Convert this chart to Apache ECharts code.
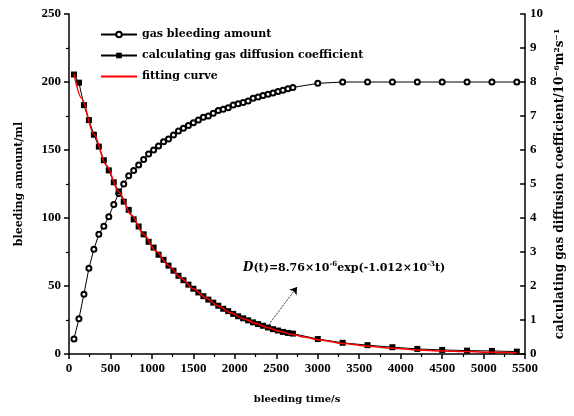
<!DOCTYPE html>
<html>
<head>
<meta charset="utf-8">
<script src="https://cdn.jsdelivr.net/npm/echarts@6/dist/echarts.min.js"></script>
<style>
html, body { margin: 0; padding: 0; background: #fff; }
#main { width: 574px; height: 416px; }
</style>
</head>
<body>
<div id="main"></div>
<script>
// 时间点 (s)
var times = [60, 120, 180, 240, 300, 360, 420, 480, 540, 600,
    660, 720, 780, 840, 900, 960, 1020, 1080, 1140, 1200,
    1260, 1320, 1380, 1440, 1500, 1560, 1620, 1680, 1740, 1800,
    1860, 1920, 1980, 2040, 2100, 2160, 2220, 2280, 2340, 2400,
    2460, 2520, 2580, 2640, 2700, 3000, 3300, 3600, 3900, 4200,
    4500, 4800, 5100, 5400];

// 放气量 (ml)
var bleedingAmount = [11, 26, 44, 63, 77, 88, 94, 101, 110, 118,
    125, 131, 135, 139, 143, 147, 150, 153, 156, 158,
    161, 164, 166, 168, 170, 172, 174, 175, 177, 179,
    180, 181, 183, 184, 185, 186, 188, 189, 190, 191,
    192, 193, 194, 195, 196, 199, 200, 200, 200, 200,
    200, 200, 200, 200];

// 扩散系数 (10^-6 m^2/s)
var diffCoef = [8.22, 7.98, 7.32, 6.88, 6.45, 6.10, 5.70, 5.40, 5.05, 4.78,
    4.48, 4.24, 3.96, 3.75, 3.52, 3.30, 3.13, 2.92, 2.77, 2.60,
    2.45, 2.30, 2.17, 2.04, 1.92, 1.81, 1.70, 1.60, 1.51, 1.42,
    1.33, 1.26, 1.18, 1.11, 1.05, 0.99, 0.93, 0.88, 0.83, 0.78,
    0.73, 0.69, 0.65, 0.62, 0.60, 0.44, 0.33, 0.26, 0.20, 0.15,
    0.12, 0.10, 0.09, 0.07];

// 拟合曲线
var fitTime = [60, 150, 300, 450, 600, 750, 900, 1050, 1200, 1350,
    1500, 1650, 1800, 1950, 2100, 2250, 2400, 2550, 2700, 2850,
    3000, 3300, 3600, 3900, 4200, 4500, 4800, 5100, 5400];
var fitValue = [8.24, 7.53, 6.46, 5.55, 4.77, 4.09, 3.52, 3.02, 2.60, 2.23,
    1.92, 1.65, 1.41, 1.21, 1.04, 0.90, 0.77, 0.66, 0.57, 0.49,
    0.42, 0.31, 0.23, 0.17, 0.12, 0.09, 0.07, 0.05, 0.04];

var seriesNames = ['gas bleeding amount', 'calculating gas diffusion coefficient', 'fitting curve'];

function pairs(xs, ys) {
    return xs.map(function (x, i) { return [x, ys[i]]; });
}

var serif = '"Liberation Serif", "DejaVu Serif", serif';
var wide = '"DejaVu Serif", serif';

var myChart = echarts.init(document.getElementById('main'));

var axisCommon = {
    axisLine: { show: true, lineStyle: { color: '#000', width: 1.5 } },
    axisTick: { show: true, length: 5, lineStyle: { color: '#000', width: 1.5 } },
    minorTick: { show: true, splitNumber: 2, length: 3, lineStyle: { color: '#000', width: 1.2 } },
    splitLine: { show: false },
    axisLabel: {
        color: '#000', fontFamily: serif, fontSize: 13, fontWeight: 'bold',
        formatter: function (v) { return String(v); }
    },
    nameTextStyle: { color: '#000', fontFamily: wide, fontSize: 10, fontWeight: 'bold' }
};

var option = {
    animation: false,
    backgroundColor: '#fff',
    grid: { left: 69, right: 37, top: 14, bottom: 62 },
    legend: {
        data: [
            { name: seriesNames[0] },
            { name: seriesNames[1] },
            { name: seriesNames[2], itemStyle: { opacity: 0 } }
        ],
        orient: 'vertical',
        left: 95,
        top: 24,
        itemWidth: 36,
        itemHeight: 7,
        itemGap: 10,
        textStyle: { color: '#000', fontFamily: wide, fontSize: 11, fontWeight: 'bold' }
    },
    xAxis: Object.assign({}, axisCommon, {
        type: 'value',
        min: 0,
        max: 5500,
        interval: 500,
        name: 'bleeding time/s',
        nameLocation: 'middle',
        nameGap: 40,
        axisLabel: Object.assign({}, axisCommon.axisLabel, { margin: 8 })
    }),
    yAxis: [
        Object.assign({}, axisCommon, {
            type: 'value',
            min: 0,
            max: 250,
            interval: 50,
            name: 'bleeding amount/ml',
            nameLocation: 'middle',
            nameRotate: 90,
            nameGap: 44,
            nameTextStyle: { color: '#000', fontFamily: wide, fontSize: 11, fontWeight: 'bold' }
        }),
        Object.assign({}, axisCommon, {
            type: 'value',
            position: 'right',
            min: 0,
            max: 10,
            interval: 1,
            name: 'calculating gas diffusion coefficient/10⁻⁶m²s⁻¹',
            nameLocation: 'middle',
            nameRotate: 90,
            nameGap: 26,
            nameTextStyle: { color: '#000', fontFamily: wide, fontSize: 12, fontWeight: 'bold' },
            axisTick: { show: true, inside: true, length: 5, lineStyle: { color: '#000', width: 1.5 } },
            minorTick: { show: false },
            axisLabel: Object.assign({}, axisCommon.axisLabel, { margin: 5 })
        })
    ],
    graphic: [{
        type: 'text',
        left: 243,
        top: 261,
        style: {
            text: '{i|D}(t)=8.76×10{s|-6}exp(-1.012×10{s|-3}t)',
            fill: '#000',
            font: 'bold 11px ' + wide,
            rich: {
                i: { fontStyle: 'italic', fontWeight: 'bold', fontSize: 12, fontFamily: wide },
                s: { fontSize: 7, fontWeight: 'bold', fontFamily: wide, verticalAlign: 'top', padding: [0, 0, 7, 0] }
            }
        }
    }],
    series: [
        {
            name: seriesNames[0],
            type: 'line',
            yAxisIndex: 0,
            data: pairs(times, bleedingAmount),
            symbol: 'emptyCircle',
            symbolSize: 5,
            lineStyle: { color: '#000', width: 1 },
            itemStyle: { color: '#000', borderColor: '#000', borderWidth: 1 }
        },
        {
            name: seriesNames[1],
            type: 'line',
            yAxisIndex: 1,
            data: pairs(times, diffCoef),
            symbol: 'rect',
            symbolSize: 6,
            lineStyle: { color: '#000', width: 1 },
            itemStyle: { color: '#000' }
        },
        {
            name: seriesNames[2],
            type: 'line',
            yAxisIndex: 1,
            data: pairs(fitTime, fitValue),
            symbol: 'none',
            smooth: 0.3,
            smoothMonotone: 'x',
            lineStyle: { color: '#ff0000', width: 1.5 },
            itemStyle: { color: '#ff0000' },
            z: 5,
            markLine: {
                silent: true,
                symbol: ['none', 'arrow'],
                symbolSize: 7,
                label: { show: false },
                lineStyle: { color: '#000', width: 1, type: 'dotted' },
                data: [[{ coord: [2420, 0.9] }, { coord: [2750, 1.97] }]]
            }
        }
    ]
};

myChart.setOption(option);
</script>
</body>
</html>
